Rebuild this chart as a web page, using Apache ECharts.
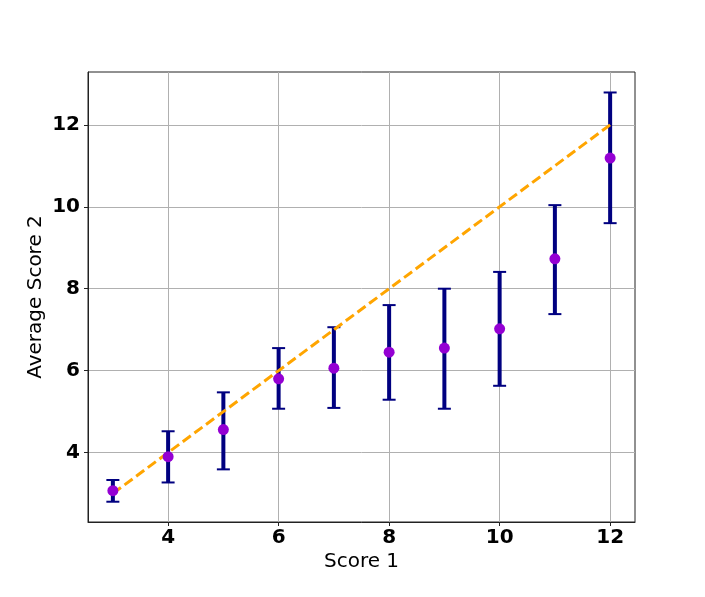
<!DOCTYPE html>
<html>
<head>
<meta charset="utf-8">
<script src="https://cdn.jsdelivr.net/npm/echarts@6/dist/echarts.min.js"></script>
<style>html,body{margin:0;padding:0;background:#fff;}#c{width:705px;height:597px;}</style>
</head>
<body>
<div id="c"></div>
<script>
const score1 = [3, 4, 5, 6, 7, 8, 9, 10, 11, 12];
const meanScore2 = [3.07, 3.90, 4.56, 5.80, 6.06, 6.45, 6.55, 7.02, 8.73, 11.19];
const upperScore2 = [3.33, 4.52, 5.47, 6.55, 7.06, 7.60, 8.00, 8.41, 10.04, 12.79];
const lowerScore2 = [2.80, 3.27, 3.59, 5.07, 5.09, 5.29, 5.07, 5.63, 7.38, 9.60];
const refLine = [[3, 3], [12, 12]];
const xTicks = [4, 6, 8, 10, 12];
const yTicks = [4, 6, 8, 10, 12];

const errData = score1.map((x, i) => [x, lowerScore2[i], upperScore2[i]]);
const ptData = score1.map((x, i) => [x, meanScore2[i]]);

const chart = echarts.init(document.getElementById('c'), null, {renderer: 'canvas'});
const font = 'DejaVu Sans';
chart.setOption({
  animation: false,
  backgroundColor: '#fff',
  grid: {left: 88, top: 72, width: 547, height: 450, show: true, borderColor: '#222', borderWidth: 1, backgroundColor: 'transparent'},
  xAxis: {
    type: 'value', min: 2.55, max: 12.45,
    name: 'Score 1', nameLocation: 'middle', nameGap: 30, nameMoveOverlap: false,
    nameTextStyle: {fontFamily: font, fontSize: 20, color: '#000'},
    axisLine: {show: true, onZero: false, lineStyle: {color: '#222', width: 1}},
    axisTick: {show: true, customValues: xTicks, length: 4, lineStyle: {color: '#222'}},
    axisLabel: {customValues: xTicks, fontFamily: font, fontSize: 20, fontWeight: 'bold', color: '#000', margin: 6},
    splitLine: {show: true, lineStyle: {color: '#b0b0b0', width: 1}}
  },
  yAxis: {
    type: 'value', min: 2.305, max: 13.29,
    name: 'Average Score 2', nameLocation: 'middle', nameGap: 42, nameMoveOverlap: false,
    nameTextStyle: {fontFamily: font, fontSize: 20, color: '#000'},
    axisLine: {show: true, onZero: false, lineStyle: {color: '#222', width: 1}},
    axisTick: {show: true, customValues: yTicks, length: 4, lineStyle: {color: '#222'}},
    axisLabel: {customValues: yTicks, fontFamily: font, fontSize: 20, fontWeight: 'bold', color: '#000', margin: 8},
    splitLine: {show: true, lineStyle: {color: '#b0b0b0', width: 1}}
  },
  series: [
    {
      type: 'custom', z: 1,
      data: errData,
      renderItem: function (params, api) {
        const x = api.value(0);
        const lo = api.coord([x, api.value(1)]);
        const hi = api.coord([x, api.value(2)]);
        const cw = 6.5;
        return {
          type: 'group',
          children: [
            {type: 'line', shape: {x1: lo[0], y1: lo[1], x2: hi[0], y2: hi[1]}, style: {stroke: '#000080', lineWidth: 4}},
            {type: 'line', shape: {x1: lo[0] - cw, y1: lo[1], x2: lo[0] + cw, y2: lo[1]}, style: {stroke: '#000080', lineWidth: 2}},
            {type: 'line', shape: {x1: hi[0] - cw, y1: hi[1], x2: hi[0] + cw, y2: hi[1]}, style: {stroke: '#000080', lineWidth: 2}}
          ]
        };
      }
    },
    {
      type: 'line', z: 2, data: refLine, symbol: 'none',
      lineStyle: {color: '#FFA500', width: 3, type: [10, 4.5]}
    },
    {
      type: 'scatter', z: 3, data: ptData, symbol: 'circle', symbolSize: 11,
      itemStyle: {color: '#9400D3', opacity: 1}
    }
  ]
});
</script>
</body>
</html>
